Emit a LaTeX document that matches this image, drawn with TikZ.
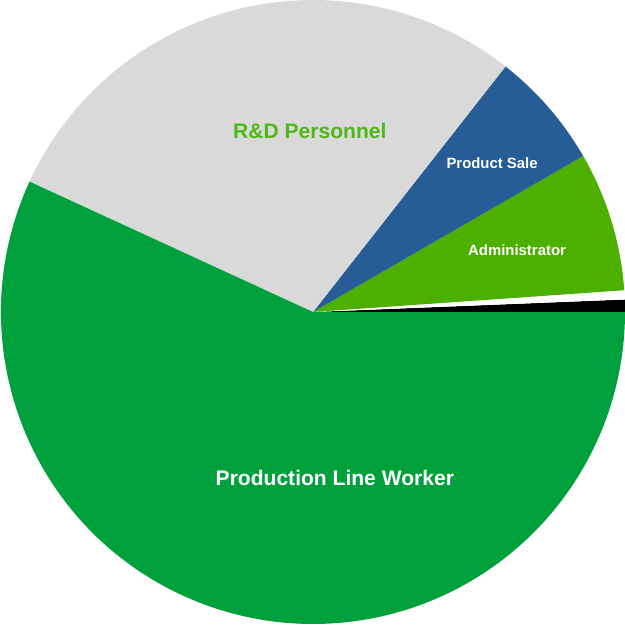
\documentclass[tikz,border=0pt]{standalone}
\usepackage{fontspec}
\setmainfont{Liberation Sans}
\usepackage{xcolor}
\usepackage{tikz}
\usetikzlibrary{positioning}

\definecolor{lineGreen}{RGB}{0,160,61}
\definecolor{adminGreen}{RGB}{77,176,0}
\definecolor{saleBlue}{RGB}{38,93,150}
\definecolor{rdGray}{RGB}{217,217,217}
\definecolor{rdText}{RGB}{78,184,22}

\begin{document}
\begin{tikzpicture}[
    every node/.style={font=\bfseries},
    big label/.style={font=\bfseries\fontsize{9.6}{11}\selectfont},
    small label/.style={font=\bfseries\fontsize{6.8}{8}\selectfont, text=white},
    slice/.style={draw=none}
]
\useasboundingbox (-5.016,-5.016) rectangle (5.0,5.0);
\coordinate (centre) at (0,0);

% pie slices: start angle / end angle / colour
\foreach \a/\b/\c in {0/2.3/black, 2.3/4.0/white, 4.0/30.0/adminGreen,
                      30.0/51.9/saleBlue, 51.9/155.3/rdGray, 155.3/360/lineGreen} {
    \fill[slice, \c] (centre) -- (\a:5) arc[start angle=\a, end angle=\b, radius=5] -- cycle;
}

% slice labels
\node[big label, text=rdText] (rd) at (-0.05,2.905) {R\&D Personnel};
\node[small label] (sale) at (2.87,2.39) {Product Sale};
\node[small label] (admin) at (3.27,0.99) {Administrator};
\node[big label, text=white] (line) at (0.35,-2.66) {Production Line Worker};

\end{tikzpicture}
\end{document}
